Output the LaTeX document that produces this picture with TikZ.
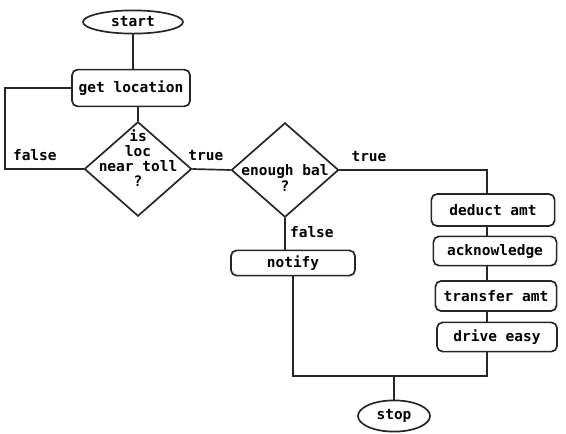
\documentclass[tikz,border=0pt]{standalone}
\usepackage{fontspec}
\setmonofont{DejaVu Sans Mono}
\usetikzlibrary{shapes.geometric, calc}
\tikzset{
  ln/.style={line width=1.2pt, draw=black!85},
  term/.style={ellipse, draw=black!85, line width=1.2pt, inner sep=0pt},
  proc/.style={draw=black!85, line width=1.2pt, rounded corners=4pt, inner sep=0pt},
  dec/.style={diamond, draw=black!85, line width=1.2pt, inner sep=0pt,
    minimum width=2.68cm, minimum height=2.36cm},
  dtxt/.style={align=center, inner sep=0pt, font=\ttfamily\bfseries\fontsize{10.3}{10.8}\selectfont},
  lab/.style={inner sep=1pt}
}
\begin{document}
\begin{tikzpicture}[x=0.025cm, y=-0.025cm, font=\ttfamily\bfseries\fontsize{10.3}{12}\selectfont]
\useasboundingbox (0,0) rectangle (566,434);
% terminals
\node[term, minimum width=2.5cm, minimum height=0.58cm] (start) at (133,22) {start};
\node[term, minimum width=1.8cm, minimum height=0.78cm] (stop) at (394,416) {stop};
% process boxes
\node[proc, minimum width=2.95cm, minimum height=0.92cm] (getloc) at (131,88) {get location};
\node[proc, minimum width=3.1cm, minimum height=0.63cm] (notify) at (293,263) {notify};
\node[proc, minimum width=3.08cm, minimum height=0.8cm] (deduct) at (493,210) {deduct amt};
\node[proc, minimum width=3.08cm, minimum height=0.73cm] (ack) at (495,251) {acknowledge};
\node[proc, minimum width=3.03cm, minimum height=0.75cm] (transfer) at (496,296) {transfer amt};
\node[proc, minimum width=3cm, minimum height=0.73cm] (drive) at (497,337) {drive easy};
% decisions
\node[dec, label={[dtxt, yshift=0.27cm]center:{is\\loc\\near toll\\?}}] (near) at (138,169) {};
\node[dec, label={[dtxt, yshift=-0.2cm]center:{enough bal\\?}}] (enough) at (285,170) {};
% helper points
\coordinate (loopl) at (5,168);
\coordinate (spine) at (487,376);
% connectors
\draw[ln] (start.south) -- (start.south |- getloc.north);
\draw[ln] (near.north |- getloc.south) -- (near.north);
\draw[ln] (near.west) -- node[lab, pos=0.62, above, yshift=4pt] {false}
  (near.west -| loopl) |- (getloc.west);
\draw[ln] (near.east) -- (enough.west)
  node[lab, midway, above, yshift=5pt, xshift=-4pt] {true};
\draw[ln] (enough.east) -| (spine |- deduct.north)
  node[lab, pos=0.1, above, yshift=4pt] {true};
\draw[ln] (enough.south) -- (enough.south |- notify.north)
  node[lab, midway, right, xshift=2pt, yshift=1pt] {false};
\draw[ln] (spine |- deduct.south) -- (spine |- ack.north);
\draw[ln] (spine |- ack.south) -- (spine |- transfer.north);
\draw[ln] (spine |- transfer.south) -- (spine |- drive.north);
\draw[ln] (spine |- drive.south) -- (spine) -| (notify.south);
\draw[ln] (stop.north |- spine) -- (stop.north);
\end{tikzpicture}
\end{document}
